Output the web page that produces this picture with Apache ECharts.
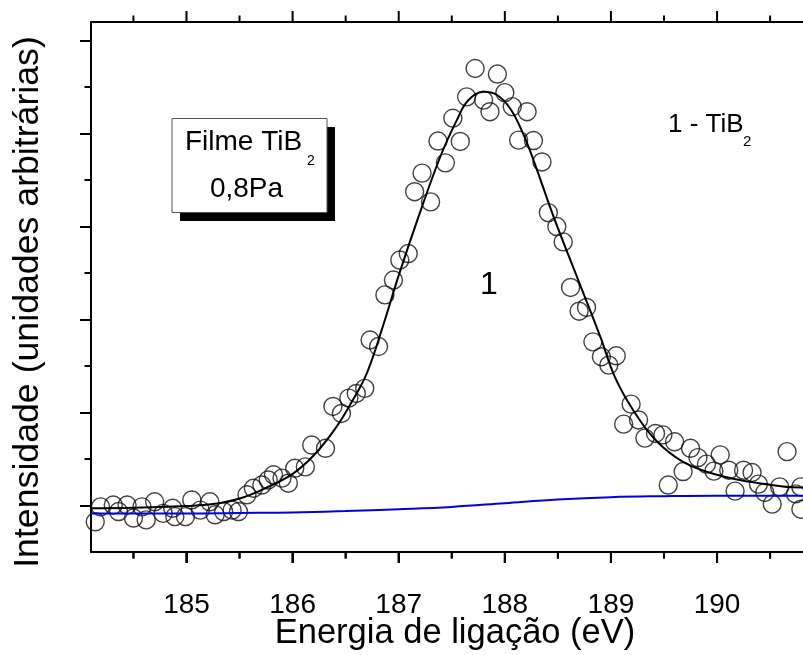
<!DOCTYPE html>
<html>
<head>
<meta charset="utf-8">
<script src="https://cdn.jsdelivr.net/npm/echarts@6/dist/echarts.min.js"></script>
<style>html,body{margin:0;padding:0;background:#fff}#c{width:803px;height:655px}</style>
</head>
<body>
<div id="c"></div>
<script>
// ---- data ----
const energy = [184.14,184.19,184.31,184.36,184.44,184.50,184.58,184.62,184.70,184.78,184.87,184.89,184.99,185.05,185.13,185.22,185.27,185.35,185.43,185.49,185.57,185.63,185.71,185.77,185.82,185.90,185.96,186.02,186.12,186.18,186.31,186.38,186.46,186.53,186.60,186.68,186.73,186.81,186.87,186.95,187.01,187.09,187.15,187.22,187.30,187.37,187.44,187.51,187.58,187.64,187.72,187.80,187.86,187.93,188.00,188.07,188.13,188.21,188.27,188.35,188.41,188.49,188.55,188.62,188.70,188.77,188.83,188.91,188.98,189.05,189.12,189.19,189.26,189.32,189.42,189.49,189.54,189.60,189.68,189.75,189.82,189.90,189.97,190.03,190.11,190.17,190.25,190.33,190.39,190.45,190.52,190.59,190.66,190.74,190.79,190.79];
const intensity = [-0.35,-0.03,0.01,-0.13,0.01,-0.27,-0.03,-0.31,0.08,-0.17,-0.06,-0.24,-0.24,0.12,-0.10,0.08,-0.20,-0.13,-0.10,-0.13,0.23,0.37,0.44,0.55,0.66,0.59,0.48,0.80,0.83,1.30,1.23,2.13,1.98,2.31,2.41,2.52,3.56,3.42,4.53,4.85,5.28,5.42,6.75,7.15,6.53,7.84,7.37,8.33,7.83,8.79,9.40,8.72,8.47,9.28,8.88,8.58,7.86,8.47,7.85,7.39,6.30,6.00,5.67,4.69,4.18,4.26,3.52,3.20,3.02,3.22,1.75,2.18,1.84,1.45,1.55,1.52,0.44,1.37,0.73,1.23,1.03,0.89,0.74,1.09,0.76,0.31,0.76,0.71,0.46,0.28,0.03,0.40,1.16,0.25,0.40,-0.08];

const fitEnergy = [184.10,184.50,185.00,185.25,185.50,185.75,186.00,186.20,186.40,186.55,186.70,186.85,187.00,187.20,187.40,187.55,187.65,187.80,187.92,188.05,188.17,188.27,188.46,188.68,188.90,189.04,189.21,189.42,189.68,190.00,190.31,190.62,190.81];
const fitIntensity = [-0.06,-0.05,-0.01,0.03,0.15,0.38,0.68,1.08,1.65,2.20,2.85,3.85,4.95,6.30,7.55,8.30,8.70,8.90,8.84,8.54,8.01,7.43,6.21,4.92,3.63,2.75,2.05,1.41,0.94,0.66,0.51,0.41,0.39];

const bgEnergy = [184.10,185.00,185.50,186.00,186.50,187.00,187.50,188.00,188.50,189.00,189.50,190.00,190.81];
const bgIntensity = [-0.17,-0.17,-0.16,-0.15,-0.12,-0.08,-0.03,0.05,0.13,0.18,0.20,0.21,0.21];

const xMajorTicks = [185,186,187,188,189,190];
const xMinorTicks = [184.5,185.5,186.5,187.5,188.5,189.5,190.5];
const yMajorTicks = [0,2,4,6,8,10];

// ---- layout ----
const W = 803, H = 655;
const gL = 91, gR = 0, gT = 22, gB = 103;
const xMin = 184.1, xMax = 190.81, yMin = -1, yMax = 10.4;
const gW = W - gL - gR, gH = H - gT - gB;
const px = v => gL + (v - xMin) / (xMax - xMin) * gW;
const py = v => gT + gH - (v - yMin) / (yMax - yMin) * gH;

const FONT = '"Liberation Sans", Arial, sans-serif';
const tickMajorLen = 11, tickMinorLen = 6.5, lw = 2;

const xMaj0 = xMajorTicks[0], xMaj1 = xMajorTicks[xMajorTicks.length - 1];
const yMaj0 = yMajorTicks[0], yMaj1 = yMajorTicks[yMajorTicks.length - 1];

const grids = [
  {left: gL, right: gR, top: gT, bottom: gB},                                      // 0 data
  {left: px(xMaj0), right: W - px(xMaj1), top: gT, bottom: gB},                     // 1 x labels
  {left: gL, right: gR, top: py(yMaj1), bottom: H - py(yMaj0)},                     // 2 y major ticks
  {left: gL, right: gR, top: py(yMaj1 - 1), bottom: H - py(yMaj0 + 1)}              // 3 y minor ticks
].map(g => Object.assign({containLabel: false, show: false}, g));

const hiddenAxis = gi => ({gridIndex: gi, type: 'value', show: false, min: 0, max: 1, axisLine: {onZero: false}});
const tickAxis = (gi, pos, min, max, step, len, labels) => ({
  gridIndex: gi, type: 'value', position: pos, min: min, max: max, interval: step, z: 5,
  axisLine: {show: false, onZero: false},
  splitLine: {show: false},
  axisTick: {show: true, inside: false, length: len, lineStyle: {color: '#000', width: lw}},
  axisLabel: labels ? {show: true, color: '#000', fontSize: 28, fontFamily: FONT, margin: 39} : {show: false}
});

// x-axis ticks (bottom + top, outward) drawn through the data grid's own x scale
const xTickData = xMajorTicks.map(v => [v, 1]).concat(xMinorTicks.map(v => [v, 0]));
const renderXTick = (params, api) => {
  const x = api.coord([api.value(0), yMin])[0];
  const yb = api.coord([xMin, yMin])[1];
  const yt = api.coord([xMin, yMax])[1];
  const len = api.value(1) ? tickMajorLen : tickMinorLen;
  const st = {stroke: '#000', lineWidth: lw};
  return {type: 'group', children: [
    {type: 'line', shape: {x1: x, y1: yb, x2: x, y2: yb + len}, style: st},
    {type: 'line', shape: {x1: x, y1: yt, x2: x, y2: yt - len}, style: st}
  ]};
};

const option = {
  animation: false,
  grid: grids,
  xAxis: [
    {gridIndex: 0, type: 'value', position: 'bottom', min: xMin, max: xMax,
     axisLine: {show: true, onZero: false, lineStyle: {color: '#000', width: lw}},
     axisTick: {show: false}, axisLabel: {show: false}, splitLine: {show: false}},
    {gridIndex: 0, type: 'value', position: 'top', min: xMin, max: xMax,
     axisLine: {show: true, onZero: false, lineStyle: {color: '#000', width: lw}},
     axisTick: {show: false}, axisLabel: {show: false}, splitLine: {show: false}},
    tickAxis(1, 'bottom', xMaj0, xMaj1, 1, tickMajorLen, true),
    hiddenAxis(2), hiddenAxis(3)
  ],
  yAxis: [
    {gridIndex: 0, type: 'value', position: 'left', min: yMin, max: yMax,
     axisLine: {show: true, onZero: false, lineStyle: {color: '#000', width: lw}},
     axisTick: {show: false}, axisLabel: {show: false}, splitLine: {show: false}},
    hiddenAxis(1),
    tickAxis(2, 'left', yMaj0, yMaj1, 2, tickMajorLen, false),
    tickAxis(3, 'left', yMaj0 + 1, yMaj1 - 1, 2, tickMinorLen, false)
  ],
  series: [
    {type: 'custom', xAxisIndex: 0, yAxisIndex: 0, clip: false, silent: true, z: 6, zlevel: 1,
     renderItem: renderXTick, data: xTickData},
    {type: 'scatter', xAxisIndex: 0, yAxisIndex: 0, symbol: 'circle', symbolSize: 18,
     itemStyle: {color: 'rgba(0,0,0,0)', borderColor: '#111', borderWidth: 1.4},
     data: energy.map((e, i) => [e, intensity[i]]), z: 2, silent: true},
    {type: 'line', xAxisIndex: 0, yAxisIndex: 0, smooth: 0.4, showSymbol: false, symbol: 'none',
     lineStyle: {color: '#0000e0', width: 2}, data: bgEnergy.map((e, i) => [e, bgIntensity[i]]), z: 3, silent: true},
    {type: 'line', xAxisIndex: 0, yAxisIndex: 0, smooth: 0.4, showSymbol: false, symbol: 'none',
     lineStyle: {color: '#000', width: 2}, data: fitEnergy.map((e, i) => [e, fitIntensity[i]]), z: 4, silent: true}
  ],
  graphic: [
    {type: 'rect', shape: {x: 180, y: 127, width: 155, height: 94}, style: {fill: '#000'}, z: 10},
    {type: 'rect', shape: {x: 172, y: 118.5, width: 155, height: 94}, style: {fill: '#fff', stroke: '#555', lineWidth: 1}, z: 11},
    {type: 'text', x: 185, y: 142, z: 12, style: {text: 'Filme TiB', font: '28px ' + FONT, fill: '#000', textAlign: 'left', textVerticalAlign: 'middle'}},
    {type: 'text', x: 307, y: 161, z: 12, style: {text: '2', font: '14px ' + FONT, fill: '#000', textAlign: 'left', textVerticalAlign: 'middle'}},
    {type: 'text', x: 246.5, y: 189.5, z: 12, style: {text: '0,8Pa', font: '28px ' + FONT, fill: '#000', textAlign: 'center', textVerticalAlign: 'middle'}},
    {type: 'text', x: 668, y: 125, z: 12, style: {text: '1 - TiB', font: '26px ' + FONT, fill: '#000', textAlign: 'left', textVerticalAlign: 'middle'}},
    {type: 'text', x: 743, y: 142, z: 12, style: {text: '2', font: '15px ' + FONT, fill: '#000', textAlign: 'left', textVerticalAlign: 'middle'}},
    {type: 'text', x: 489, y: 285, z: 12, style: {text: '1', font: '32px ' + FONT, fill: '#000', textAlign: 'center', textVerticalAlign: 'middle'}},
    {type: 'text', x: 455, y: 633, z: 12, style: {text: 'Energia de ligação (eV)', font: '34.5px ' + FONT, fill: '#000', textAlign: 'center', textVerticalAlign: 'middle'}},
    {type: 'text', x: 28, y: 302, rotation: Math.PI / 2, z: 12, style: {text: 'Intensidade (unidades arbitrárias)', font: '35.7px ' + FONT, fill: '#000', textAlign: 'center', textVerticalAlign: 'middle'}}
  ]
};

const chart = echarts.init(document.getElementById('c'), null, {renderer: 'canvas'});
chart.setOption(option);

// overlay of the bottom ticks on a top layer, positioned through the chart's own x scale
const yBottom = chart.convertToPixel({yAxisIndex: 0}, yMin);
const tickEls = xTickData.map(d => {
  const x = chart.convertToPixel({xAxisIndex: 0}, d[0]);
  const len = d[1] ? tickMajorLen : tickMinorLen;
  return {type: 'line', zlevel: 2, z: 100, silent: true,
          shape: {x1: x, y1: yBottom, x2: x, y2: yBottom + len},
          style: {stroke: '#000', lineWidth: lw}};
});
chart.setOption({graphic: option.graphic.concat(tickEls)});
</script>
</body>
</html>
